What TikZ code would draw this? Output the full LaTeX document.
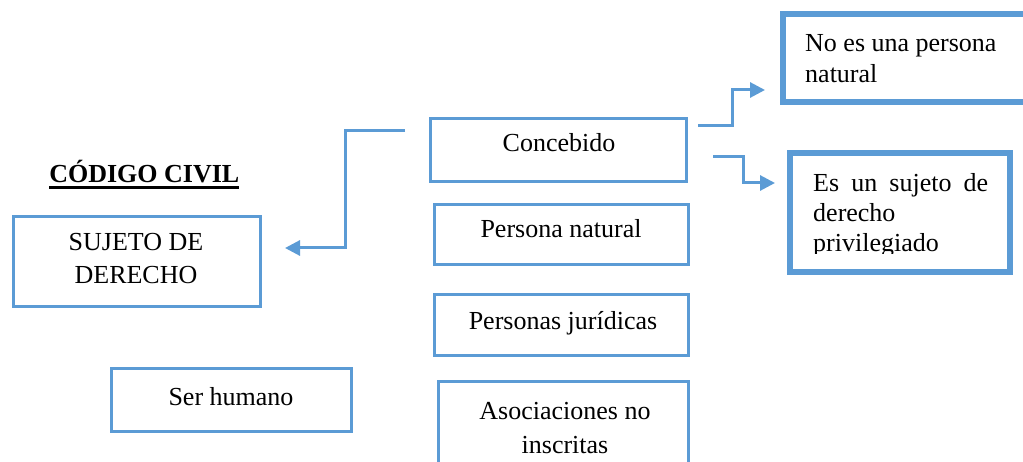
\documentclass[tikz,border=0pt]{standalone}
\usepackage{fontspec}
\setmainfont{Liberation Serif}
\usetikzlibrary{arrows.meta}
\definecolor{wblue}{RGB}{91,155,213}
\begin{document}
\begin{tikzpicture}[x=1pt,y=-1pt,
  thinbox/.style={draw=wblue, line width=3pt, inner sep=0pt, rectangle},
  thickbox/.style={draw=wblue, line width=6pt, inner sep=0pt, rectangle},
  txt/.style={inner sep=0pt, anchor=base, font=\fontsize{26}{30}\selectfont},
  ltxt/.style={inner sep=0pt, anchor=base west, font=\fontsize{26}{30}\selectfont},
  arr/.style={draw=wblue, line width=3pt, -{Triangle[length=15pt,width=15pt]}}]
\useasboundingbox (0,0) rectangle (1023,462);
% boxes
\node[thinbox, minimum width=247pt, minimum height=90pt] (suj) at (137,261.5) {};
\node[thinbox, minimum width=256pt, minimum height=63pt] (con) at (558.5,150) {};
\node[thinbox, minimum width=254pt, minimum height=60pt] (pnat) at (561.5,234.5) {};
\node[thinbox, minimum width=254pt, minimum height=61pt] (pjur) at (561.5,325) {};
\node[thinbox, minimum width=240pt, minimum height=62.5pt] (ser) at (231.5,399.75) {};
\node[thinbox, minimum width=249.5pt, minimum height=97pt] (aso) at (563.25,430) {};
\node[thickbox, minimum width=257pt, minimum height=88pt] (noes) at (911.5,58) {};
\node[thickbox, minimum width=220pt, minimum height=119pt] (esun) at (900,212.5) {};
% texts
\node[txt, font=\fontsize{26}{30}\selectfont\bfseries] (cc) at (144.3,183) {CÓDIGO CIVIL};
\draw[line width=2.5pt] ([yshift=-4.5pt]cc.base west) -- ([yshift=-4.5pt]cc.base east);
\node[txt] (suj1) at (136,251) {SUJETO DE};
\node[txt] (suj2) at (136,284) {DERECHO};
\node[txt] (cont) at (559,152) {Concebido};
\node[txt] (pnatt) at (561,238) {Persona natural};
\node[txt] (pjurt) at (563,330) {Personas jurídicas};
\node[txt] (sert) at (231,405) {Ser humano};
\node[txt] (aso1) at (565,419) {Asociaciones no};
\node[txt] (aso2) at (565,453) {inscritas};
\node[ltxt] (noes1) at (805,52) {No es una persona};
\node[ltxt] (noes2) at (805,83) {natural};
\begin{scope}
\clip (795,160) rectangle (1005,254);
\node[ltxt] (esun1) at (813,192) {\makebox[175pt][s]{Es un sujeto de}};
\node[ltxt] (esun2) at (813,222) {derecho};
\node[ltxt] (esun3) at (813,252) {privilegiado};
\end{scope}
% connectors
\coordinate (a1s) at (698,126);
\coordinate (a1e) at (765,90);
\coordinate (a2s) at (713,157);
\coordinate (a2e) at (775,183);
\coordinate (a3s) at (405,131);
\coordinate (a3e) at (285,248);
\draw[arr] (a1s) -- ++(34,0) |- (a1e);
\draw[arr] (a2s) -- ++(30,0) |- (a2e);
\draw[arr] (a3s) -- ++(-60,0) |- (a3e);
\end{tikzpicture}
\end{document}
